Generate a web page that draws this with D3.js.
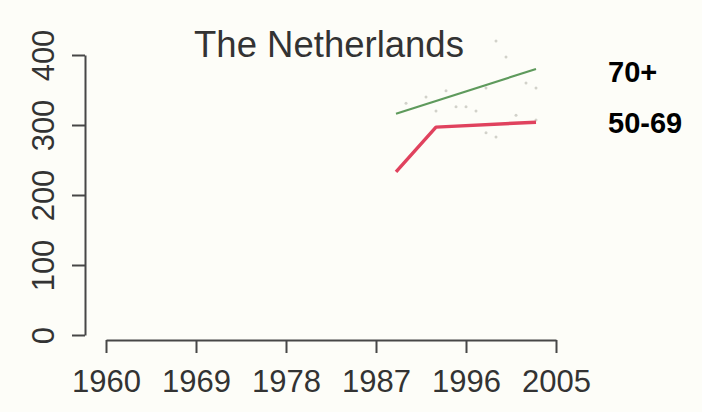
<!DOCTYPE html>
<html>
<head>
<meta charset="utf-8">
<script src="https://cdn.jsdelivr.net/npm/d3@7"></script>
<style>
  html, body { margin: 0; padding: 0; background: #fdfdf8; }
  svg { display: block; }
</style>
</head>
<body>
<div id="chart"></div>
<script>
/* global d3 */
const xTicks = [1960, 1969, 1978, 1987, 1996, 2005];
const yTicks = [0, 100, 200, 300, 400];

// fitted trend lines
const oldYears = [1989, 2003];
const oldTrend = [316, 380];
const midYears = [1989, 1993, 2003];
const midTrend = [233, 297, 304];

// faint observed points
const oldPtYears = [1990, 1992, 1994, 1998, 1999, 2000, 2002, 2003];
const oldPtValues = [331, 340, 349, 353, 420, 397, 360, 353];
const midPtYears = [1993, 1995, 1996, 1997, 1998, 1999, 2001, 2003];
const midPtValues = [320, 326, 326, 320, 289, 283, 314, 307];

const seriesLabels = ['70+', '50-69'];

const w = 702, h = 412;
const font = 'Liberation Sans, Arial, Helvetica, sans-serif';

const svg = d3.select('#chart').append('svg').attr('width', w).attr('height', h);

const x = d3.scaleLinear().domain([1960, 2005]).range([106, 556]);
const y = d3.scaleLinear().domain([0, 400]).range([335, 55]);

// axes, R style: detached, ticks outward
const xAxis = svg.append('g').attr('transform', 'translate(0,340)')
  .call(d3.axisBottom(x).tickValues(xTicks).tickFormat(d3.format('d')).tickSize(13).tickSizeOuter(0));
const yAxis = svg.append('g').attr('transform', 'translate(85,0)')
  .call(d3.axisLeft(y).tickValues(yTicks).tickSize(13).tickSizeOuter(0));

[xAxis, yAxis].forEach(a => {
  a.select('.domain').attr('stroke', '#474747').attr('stroke-width', 2);
  a.selectAll('.tick line').attr('stroke', '#474747').attr('stroke-width', 2);
  a.selectAll('.tick text').attr('fill', '#333').attr('font-size', 31).attr('font-family', font);
});

xAxis.selectAll('.tick text').attr('dy', '0.71em').attr('y', 30);
yAxis.selectAll('.tick text')
  .attr('text-anchor', 'middle').attr('x', 0).attr('dy', 0)
  .attr('transform', 'translate(-31,0) rotate(-90)');

// title
svg.append('text').attr('x', (x(1960) + x(2005)) / 2 - 2).attr('y', 57)
  .attr('text-anchor', 'middle').attr('font-size', 36.5).attr('font-family', font).attr('fill', '#333')
  .text('The Netherlands');

// points
const pts = oldPtYears.map((yr, i) => ({ yr, v: oldPtValues[i] }))
  .concat(midPtYears.map((yr, i) => ({ yr, v: midPtValues[i] })));
svg.selectAll('.pt').data(pts).join('circle')
  .attr('class', 'pt')
  .attr('cx', d => x(d.yr)).attr('cy', d => y(d.v)).attr('r', 1.5)
  .attr('fill', '#d2d2ca');

const line = d3.line().x(d => x(d[0])).y(d => y(d[1]));

svg.append('path').datum(oldYears.map((yr, i) => [yr, oldTrend[i]]))
  .attr('d', line).attr('fill', 'none').attr('stroke', '#5e9a5c').attr('stroke-width', 2.2);
svg.append('path').datum(midYears.map((yr, i) => [yr, midTrend[i]]))
  .attr('d', line).attr('fill', 'none').attr('stroke', '#e0425e').attr('stroke-width', 3.4)
  .attr('stroke-linejoin', 'round');

// series labels
const labelY = [82, 133];
svg.selectAll('.lab').data(seriesLabels).join('text')
  .attr('class', 'lab')
  .attr('x', 608).attr('y', (d, i) => labelY[i])
  .attr('font-size', 29).attr('font-weight', 700).attr('font-family', font).attr('fill', '#000')
  .text(d => d);
</script>
</body>
</html>
